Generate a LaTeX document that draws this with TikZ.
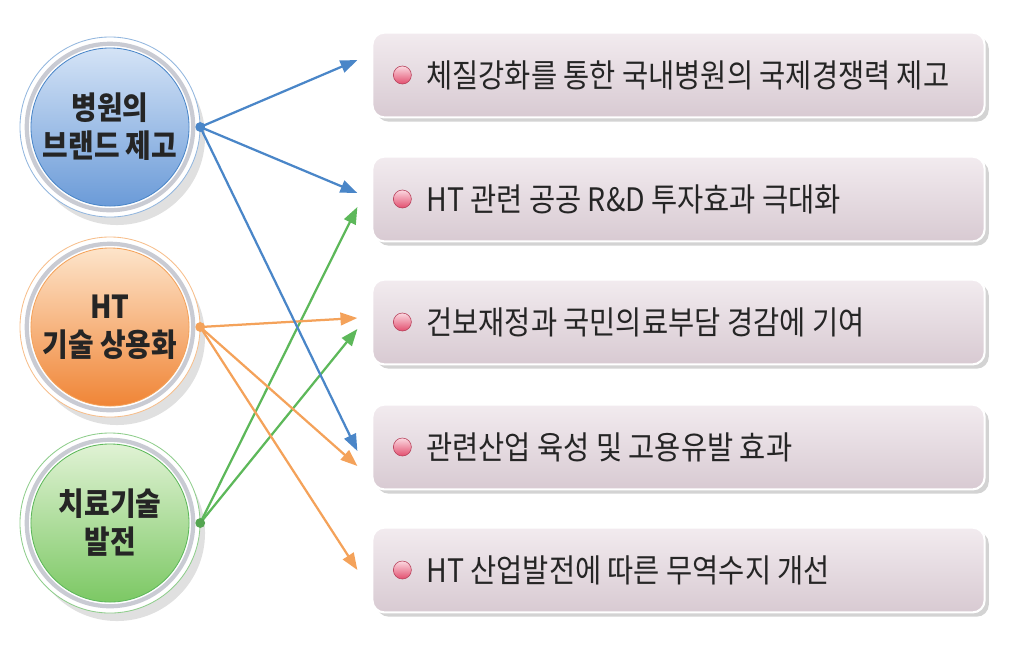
\documentclass[tikz,border=0pt]{standalone}
\usepackage{fontspec}
\newfontfamily\krfont[FakeStretch=0.88]{Noto Sans CJK KR}
\usetikzlibrary{positioning,shadows,arrows.meta,calc}

\definecolor{bluetop}{HTML}{D4E3F6}
\definecolor{bluebot}{HTML}{6B9BD8}
\definecolor{blueln}{HTML}{4A86C8}
\definecolor{orgtop}{HTML}{FDE4CA}
\definecolor{orgbot}{HTML}{F08536}
\definecolor{orgln}{HTML}{F4A25A}
\definecolor{grntop}{HTML}{E0F2D4}
\definecolor{grnbot}{HTML}{7CC864}
\definecolor{grnln}{HTML}{5DB85A}
\definecolor{boxtop}{HTML}{F2EBEF}
\definecolor{boxbot}{HTML}{D8CAD2}
\definecolor{ringgray}{HTML}{C9CBD3}
\definecolor{txtgray}{HTML}{252525}
\definecolor{bultop}{HTML}{FBD8E0}
\definecolor{bulbot}{HTML}{E24E6E}

\tikzset{
  hub/.style={circle,minimum size=3.95cm,inner sep=0pt,outer sep=0.28cm,align=center,
    font=\krfont\bfseries\fontsize{22.5}{27}\selectfont,text=txtgray,line width=0.6pt},
  resbox/.style={rectangle,rounded corners=0.3cm,minimum width=15.3cm,minimum height=2.12cm,
    top color=boxtop,bottom color=boxbot,draw=white,line width=1.5pt,
    drop shadow={shadow xshift=3pt,shadow yshift=-3pt,opacity=0.35}},
  bullet/.style={circle,minimum size=0.45cm,inner sep=0pt,top color=bultop,bottom color=bulbot,
    draw=bulbot!80!black,line width=0.4pt},
  restxt/.style={inner sep=0pt,font=\krfont\fontsize{23}{27}\selectfont,text=txtgray},
  link/.style={line width=1.6pt,-{Triangle[length=12pt,width=9pt]}}
}

\begin{document}
\begin{tikzpicture}[x=0.025cm,y=-0.025cm]
\useasboundingbox (0,0) rectangle (1023,660);

% left hand circles
\coordinate (hospc) at (110,127);
\coordinate (techc) at (110,327);
\coordinate (curec) at (110,523);

\fill[black!30,opacity=.4] ($(hospc)+(7,10)$) circle (2.2cm);
\draw[blueln!60,fill=white,line width=0.6pt] (hospc) circle (2.25cm);
\draw[ringgray,line width=3pt] (hospc) circle (2.08cm);
\node[hub,top color=bluetop,bottom color=bluebot,draw=blueln] (hosp) at (hospc) {병원의\\브랜드 제고};

\fill[black!30,opacity=.4] ($(techc)+(7,10)$) circle (2.2cm);
\draw[orgln!70,fill=white,line width=0.6pt] (techc) circle (2.25cm);
\draw[ringgray,line width=3pt] (techc) circle (2.08cm);
\node[hub,top color=orgtop,bottom color=orgbot,draw=orgln] (tech) at (techc) {HT\\기술 상용화};

\fill[black!30,opacity=.4] ($(curec)+(7,10)$) circle (2.2cm);
\draw[grnln!70,fill=white,line width=0.6pt] (curec) circle (2.25cm);
\draw[ringgray,line width=3pt] (curec) circle (2.08cm);
\node[hub,top color=grntop,bottom color=grnbot,draw=grnln] (cure) at (curec) {치료기술\\발전};

% result boxes
\node[resbox] (res1) at (678.5,75) {};
\node[resbox] (res2) at (678.5,199) {};
\node[resbox] (res3) at (678.5,322) {};
\node[resbox] (res4) at (678.5,447) {};
\node[resbox] (res5) at (678.5,570) {};

\node[bullet] (bul1) at ($(res1.west)+(31,0)$) {};
\node[bullet] (bul2) at ($(res2.west)+(31,0)$) {};
\node[bullet] (bul3) at ($(res3.west)+(31,0)$) {};
\node[bullet] (bul4) at ($(res4.west)+(31,0)$) {};
\node[bullet] (bul5) at ($(res5.west)+(31,0)$) {};

\node[restxt,right=0.36cm of bul1] (txt1) {체질강화를 통한 국내병원의 국제경쟁력 제고};
\node[restxt,right=0.36cm of bul2] (txt2) {HT 관련 공공 R\&D 투자효과 극대화};
\node[restxt,right=0.36cm of bul3] (txt3) {건보재정과 국민의료부담 경감에 기여};
\node[restxt,right=0.36cm of bul4] (txt4) {관련산업 육성 및 고용유발 효과};
\node[restxt,right=0.36cm of bul5] (txt5) {HT 산업발전에 따른 무역수지 개선};

% arrow ends
\coordinate (in1a) at ($(res1.west)+(-14,-15)$);
\coordinate (in2a) at ($(res2.west)+(-14,-6)$);
\coordinate (in2b) at ($(res2.west)+(-14,8)$);
\coordinate (in3a) at ($(res3.west)+(-14,-4)$);
\coordinate (in3b) at ($(res3.west)+(-14,7)$);
\coordinate (in4a) at ($(res4.west)+(-14,4)$);
\coordinate (in4b) at ($(res4.west)+(-14,19)$);
\coordinate (in5a) at ($(res5.west)+(-14,0)$);

\draw[link,grnln] (cure.east) -- (in2b);
\draw[link,grnln] (cure.east) -- (in3b);
\draw[link,orgln] (tech.east) -- (in3a);
\draw[link,orgln] (tech.east) -- (in4b);
\draw[link,orgln] (tech.east) -- (in5a);
\draw[link,blueln] (hosp.east) -- (in1a);
\draw[link,blueln] (hosp.east) -- (in2a);
\draw[link,blueln] (hosp.east) -- (in4a);

\fill[blueln] (hosp.east) circle (3.5pt);
\fill[orgln] (tech.east) circle (3.5pt);
\fill[grnln!90!black] (cure.east) circle (3.5pt);
\end{tikzpicture}
\end{document}
